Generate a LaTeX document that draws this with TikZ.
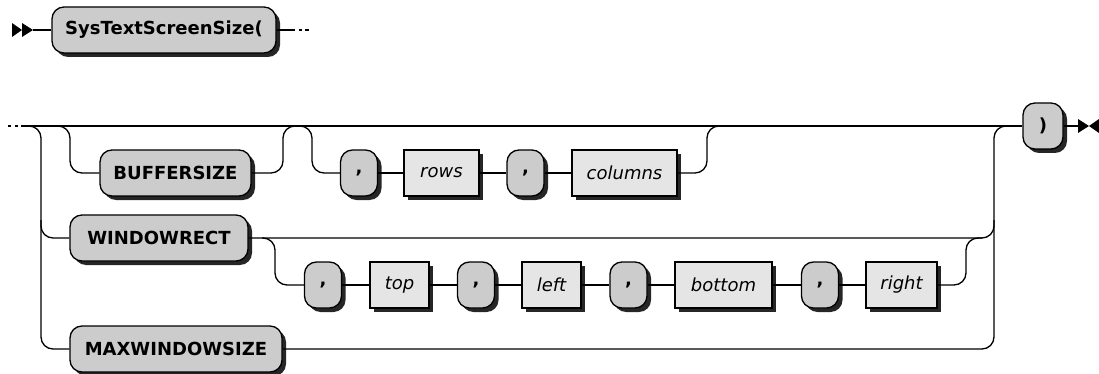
\documentclass[tikz,border=0pt]{standalone}
\usepackage{fontspec}
\setsansfont{DejaVu Sans}
\usepackage{tikz}
\usetikzlibrary{positioning, shadows}

\begin{document}
\begin{tikzpicture}[
    x=0.75pt, y=-0.75pt,
    line width=1pt,
    term/.style={rectangle, draw=black, fill=black!20, rounded corners=9pt, minimum height=34.5pt, inner xsep=0pt, font=\sffamily\bfseries\fontsize{13.5}{16}\selectfont, drop shadow={shadow xshift=3pt, shadow yshift=-3pt, fill=black!85, opacity=1}},
    nonterm/.style={rectangle, draw=black, fill=black!10, minimum height=34.5pt, inner xsep=0pt, font=\sffamily\itshape\fontsize{13.5}{16}\selectfont, drop shadow={shadow xshift=3pt, shadow yshift=-3pt, fill=black!85, opacity=1}},
    comma/.style={term, minimum width=27.75pt},
    rail/.style={rounded corners=9pt},
    dots/.style={dash pattern=on 2.5pt off 2.5pt},
]
\useasboundingbox (0,0) rectangle (1099,374);

% ===== First line =====
\coordinate (begin) at (33,30);
\node[term, minimum width=168pt] (sys) at (164,30) {SysTextScreenSize(};

% ===== Second line: first alternative =====
\coordinate (cont) at (25,126);
\node[term, minimum width=113.25pt] (bufsize) at (175.5,173) {BUFFERSIZE};
\node[comma] (comma1) at (359,173) {,};
\node[nonterm, minimum width=56.25pt] (rows) at (441.5,173) {rows};
\node[comma] (comma2) at (525.5,173) {,};
\node[nonterm, minimum width=78.75pt] (cols) at (624.5,173) {columns};

% ===== WINDOWRECT =====
\node[term, minimum width=133.5pt] (winrect) at (159,238) {WINDOWRECT};
\node[comma] (comma3) at (323,285) {,};
\node[nonterm, minimum width=44.25pt] (top) at (399.5,285) {top};
\node[comma] (comma4) at (476,285) {,};
\node[nonterm, minimum width=44.25pt] (left) at (551.5,285) {left};
\node[comma] (comma5) at (628.5,285) {,};
\node[nonterm, minimum width=72.75pt] (bottom) at (723.5,285) {bottom};
\node[comma] (comma6) at (820,285) {,};
\node[nonterm, minimum width=53.25pt] (right) at (901.5,285) {right};

% ===== MAXWINDOWSIZE =====
\node[term, minimum width=159pt] (maxwin) at (176,349) {MAXWINDOWSIZE};

% ===== Closing =====
\node[term, minimum width=30pt] (close) at (1043,126) {)};
\coordinate (stop) at (1089,126);

% ===== Start / end markers =====
\fill (begin) ++(-21,-7) -- ++(10,7) -- ++(-10,7) -- cycle;
\fill (begin) ++(-11,-7) -- ++(11,7) -- ++(-11,7) -- cycle;
\fill (stop) ++(-11,-7) -- ++(11,7) -- ++(-11,7) -- cycle;
\fill (stop) ++(10,-7) -- ++(-10,7) -- ++(10,7) -- cycle;

% ===== Rails =====
\draw (begin) -- (sys);
\draw (sys.east) -- (292,30);
\draw[dots] (292,30) -- (310,30);

\draw[dots] (8,126) -- (cont);
\draw (cont) -- (close.west);
\draw (close.east) -- (1078,126);

\draw[rail] (cont) -| (41,349) -- (maxwin.west);
\draw[rail] (41,220) |- (winrect.west);

\draw[rail] (56,126) -| (70,173) -- (bufsize.west);
\draw[rail] (bufsize.east) -| (283,126) -- (298,126);
\draw[rail] (296,126) -| (312,173) -- (comma1.west);
\draw (comma1) -- (rows) -- (comma2) -- (cols);
\draw[rail] (cols.east) -| (707,126) -- (722,126);

\draw[rail] (winrect.east) -| (994,220);
\draw[rail] (262,238) -| (275,285) -- (comma3.west);
\draw (comma3) -- (top) -- (comma4) -- (left) -- (comma5) -- (bottom) -- (comma6) -- (right);
\draw[rail] (right.east) -| (966,238) -- (982,238);

\draw[rail] (maxwin.east) -| (994,126) -- (1012,126);

\end{tikzpicture}
\end{document}
